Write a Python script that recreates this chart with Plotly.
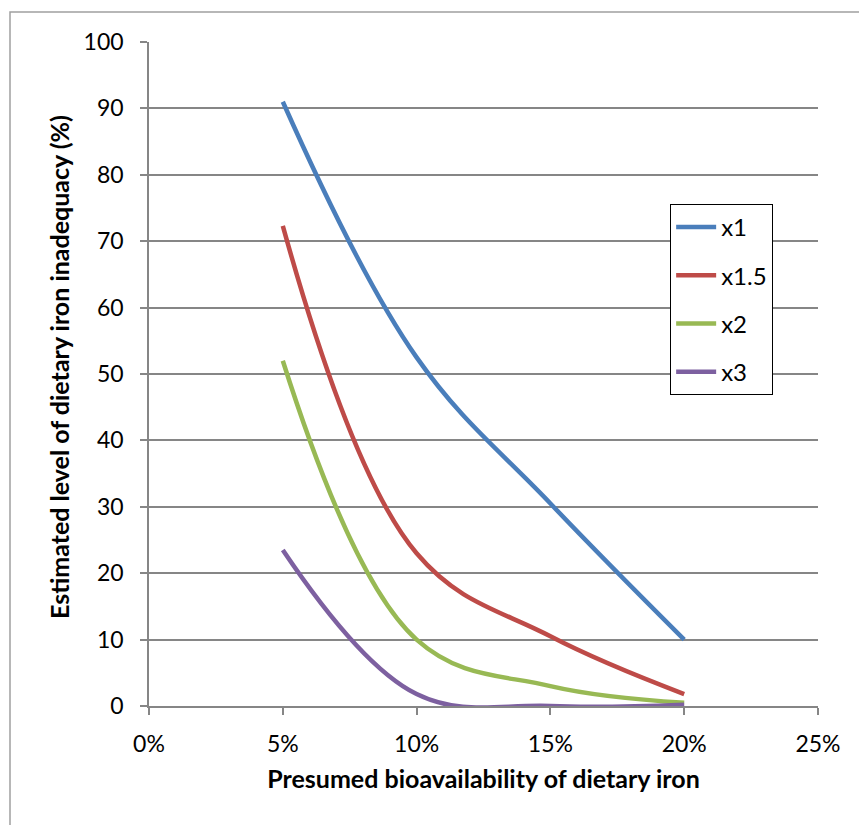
import plotly.graph_objects as go

bioavailability = [0.05, 0.10, 0.15, 0.20]
series_names = ["x1", "x1.5", "x2", "x3"]
x1 = [91.0, 52.5, 30.5, 10.0]
x1_5 = [72.3, 23.0, 10.5, 1.8]
x2 = [52.0, 10.0, 3.0, 0.5]
x3 = [23.5, 1.8, 0.0, 0.2]
colors = ["#4A7EBB", "#BE4B48", "#98B954", "#7D60A0"]

x_ticks = [0, 0.05, 0.10, 0.15, 0.20, 0.25]
x_tick_labels = ["0%", "5%", "10%", "15%", "20%", "25%"]
y_ticks = list(range(0, 101, 10))
x_title = "Presumed bioavailability of dietary iron"
y_title = "Estimated level of dietary iron inadequacy (%)"

FONT = "Lato, 'Open Sans', sans-serif"

fig = go.Figure()
for name, vals, col in zip(series_names, [x1, x1_5, x2, x3], colors):
    fig.add_trace(go.Scatter(
        x=bioavailability, y=vals, name=name, mode="lines",
        line=dict(color=col, width=4.5, shape="spline", smoothing=1.1),
        legendgroup=name,
    ))

fig.update_layout(
    width=859, height=825, autosize=False,
    margin=dict(l=149, r=41, t=42, b=119),
    plot_bgcolor="white", paper_bgcolor="white",
    font=dict(family=FONT, size=23, color="black"),
    showlegend=True,
    legend=dict(
        x=0.779, y=0.756, xanchor="left", yanchor="top",
        bordercolor="black", borderwidth=1, bgcolor="white",
        font=dict(family=FONT, size=24, color="black"),
        tracegroupgap=14, itemwidth=40,
    ),
    xaxis=dict(
        range=[0, 0.25], tickvals=x_ticks, ticktext=x_tick_labels,
        showgrid=False, zeroline=False, showline=True, linecolor="#868686", linewidth=1.5,
        ticks="outside", ticklen=7, tickcolor="#868686", tickwidth=1.5,
        tickfont=dict(family=FONT, size=23), ticklabelstandoff=10,
        title=dict(text="<b>" + x_title + "</b>",
                   font=dict(family=FONT, size=25), standoff=14),
    ),
    yaxis=dict(
        range=[0, 100], tickvals=y_ticks,
        showgrid=True, gridcolor="#868686", gridwidth=1.5,
        zeroline=False, showline=True, linecolor="#868686", linewidth=1.5,
        ticks="outside", ticklen=7, tickcolor="#868686", tickwidth=1.5,
        tickfont=dict(family=FONT, size=23), ticklabelstandoff=12,
    ),
)

fig.add_annotation(
    text="<b>" + y_title + "</b>", textangle=-90,
    xref="paper", yref="paper", x=(59 - 149) / 669, y=(706 - 367) / 664,
    xanchor="center", yanchor="middle", showarrow=False,
    font=dict(family=FONT, size=25, color="black"),
)

fig.add_shape(type="rect", xref="paper", yref="paper",
              x0=-139/669, y0=(706-12)/664, x1=1.2, y1=-0.3,
              line=dict(color="#A0A0A0", width=1.5), layer="below")

fig.write_html("out.html")
